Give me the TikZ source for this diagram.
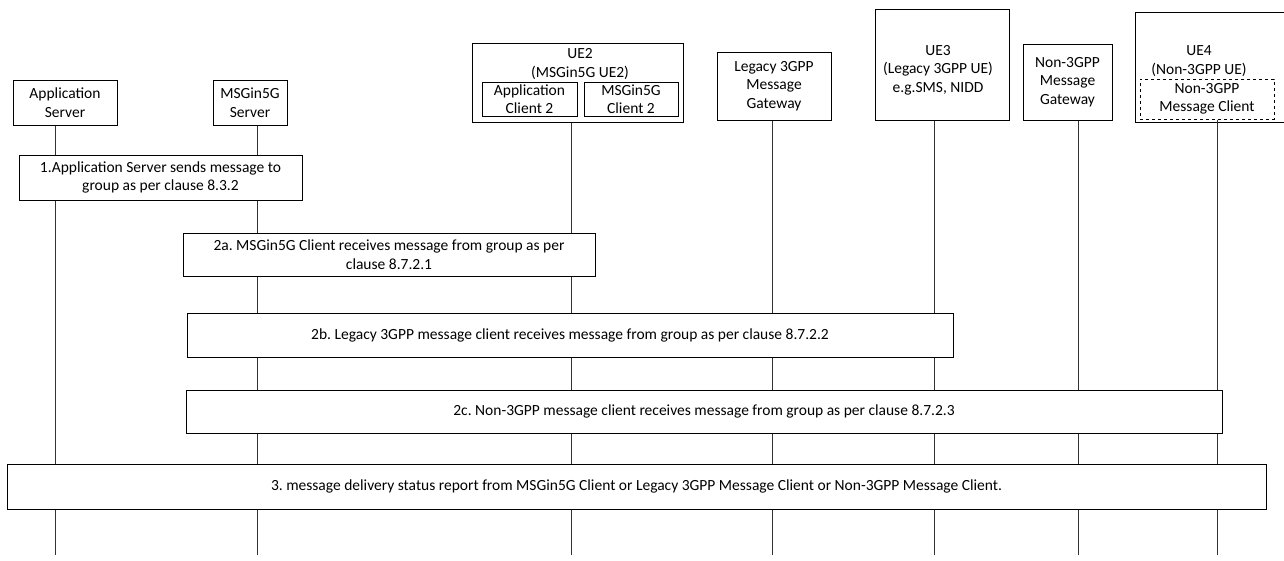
\documentclass[tikz,border=0pt]{standalone}
\usepackage{fontspec}
\setmainfont{Carlito}
\usepackage{tikz}
\usetikzlibrary{positioning}
\frenchspacing

\begin{document}
\begin{tikzpicture}[x=1pt, y=-1pt,
    ent/.style={draw, line width=1pt, fill=white, inner sep=0pt, align=center,
        font=\fontsize{15.5}{18.5}\selectfont},
    txt/.style={inner sep=0pt, align=center, font=\fontsize{15.5}{18.5}\selectfont},
    msg/.style={draw, line width=1pt, fill=white, inner sep=0pt, align=center,
        font=\fontsize{15.5}{18.5}\selectfont},
    life/.style={line width=1pt, black!80}]
    \useasboundingbox (0,0) rectangle (1284,560);

    % Entitaeten oben
    \node[ent, minimum width=104, minimum height=45] (as) at (65,102.5) {Application\\Server};
    \node[ent, minimum width=74, minimum height=45] (ms) at (250,102.5) {MSGin5G\\Server};
    \node[ent, minimum width=211, minimum height=79] (ue2) at (577.5,82.5) {};
    \node[txt] (ue2lbl) at (580,64) {UE2\\(MSGin5G UE2)};
    \node[ent, minimum width=95, minimum height=34] (ac2) at (529.5,99) {Application\\Client 2};
    \node[ent, minimum width=94, minimum height=34] (mc2) at (631,99) {MSGin5G\\Client 2};
    \node[ent, minimum width=114, minimum height=68] (lgw) at (774,86) {Legacy 3GPP\\Message\\Gateway};
    \node[ent, minimum width=134, minimum height=111] (ue3) at (942,64.5) {};
    \node[txt] (ue3lbl) at (938,70) {UE3\\(Legacy 3GPP UE)\\e.g.SMS, NIDD};
    \node[ent, minimum width=89, minimum height=76] (ngw) at (1067.5,82) {Non-3GPP\\Message\\Gateway};
    \node[ent, minimum width=155, minimum height=110] (ue4) at (1212.5,67) {};
    \node[txt] (ue4lbl) at (1199,61) {UE4\\(Non-3GPP UE)};
    \node[ent, dashed, minimum width=134, minimum height=40] (nmc) at (1207,99) {Non-3GPP\\Message Client};

    % Lebenslinien
    \coordinate (asEnd) at (55,555);
    \coordinate (msEnd) at (257,555);
    \coordinate (ue2End) at (571,555);
    \coordinate (lgwEnd) at (772,555);
    \coordinate (ue3End) at (934,555);
    \coordinate (ngwEnd) at (1078,555);
    \coordinate (ue4End) at (1217,555);
    \draw[life] (as.south -| asEnd) -- (asEnd);
    \draw[life] (ms.south -| msEnd) -- (msEnd);
    \draw[life] (ue2.south -| ue2End) -- (ue2End);
    \draw[life] (lgw.south -| lgwEnd) -- (lgwEnd);
    \draw[life] (ue3.south -| ue3End) -- (ue3End);
    \draw[life] (ngw.south -| ngwEnd) -- (ngwEnd);
    \draw[life] (nmc.south -| ue4End) -- (ue4End);

    % Schritte
    \node[msg, minimum width=283, minimum height=45] (m1) at (160.5,177.5)
        {1.Application Server sends message to\\group as per clause 8.3.2};
    \node[msg, minimum width=412, minimum height=43] (m2a) at (389,254.5)
        {2a. MSGin5G Client receives message from group as per\\clause 8.7.2.1};
    \node[msg, minimum width=766, minimum height=44] (m2b) at (570,335)
        {2b. Legacy 3GPP message client receives message from group as per clause 8.7.2.2};
    \node[msg, minimum width=1036, minimum height=43] (m2c) at (704,411.5)
        {2c. Non-3GPP message client receives message from group as per clause 8.7.2.3};
    \node[msg, minimum width=1259, minimum height=45] (m3) at (636.5,486.5)
        {3. message delivery status report from MSGin5G Client or Legacy 3GPP Message Client or Non-3GPP Message Client.};
\end{tikzpicture}
\end{document}
